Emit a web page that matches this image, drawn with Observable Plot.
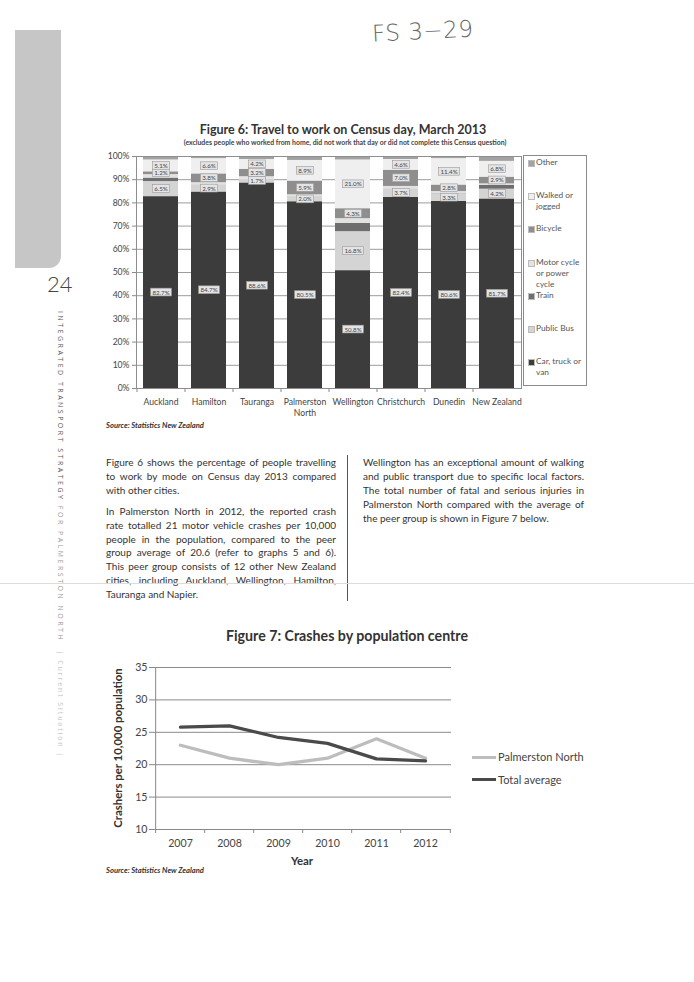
<!DOCTYPE html>
<html><head><meta charset="utf-8">
<script src="https://cdn.jsdelivr.net/npm/d3@7"></script>
<script src="https://cdn.jsdelivr.net/npm/@observablehq/plot@0.6"></script>
<style>
body{margin:0;background:#fff;}
#page{position:relative;width:694px;height:982px;overflow:hidden;font-family:Lato,"Open Sans",sans-serif;color:#333;background:#fff;}
.a{position:absolute;white-space:nowrap;}
.cc{transform:translate(-50%,-50%);line-height:1;}
#tab{left:15px;top:30px;width:46px;height:238px;background:#c6c6c6;border-bottom-right-radius:12px;}
#pnum{left:47px;top:270px;font-size:22px;font-weight:300;color:#444;font-family:Lato,sans-serif;}
#vert{left:56px;top:311px;writing-mode:vertical-rl;font-size:7px;letter-spacing:2.5px;color:#444;font-family:"Open Sans",sans-serif;}
#hand{left:372px;top:18px;font-size:23px;font-weight:200;color:#666;font-family:"DejaVu Sans",sans-serif;letter-spacing:0.5px;transform:rotate(-3deg);}
#t6{left:343px;top:130px;font-size:12.5px;font-weight:bold;color:#333;}
#s6{left:345px;top:142px;font-size:6.9px;font-weight:bold;color:#444;}
#fig6{left:0;top:146px;}
#fig7{left:100px;top:655px;}
#leg6{left:523px;top:155px;width:64px;height:231px;border:1px solid #8a8a8a;box-sizing:border-box;padding-top:1px;}
.li{position:relative;height:33.2px;font-size:8.3px;line-height:11px;color:#555;padding-left:12px;white-space:pre;}
.sw{position:absolute;left:4px;top:3px;width:5px;height:5px;}
.src{font-size:7.6px;font-weight:bold;font-style:italic;color:#333;}
.col{font-size:10px;color:#333;}
.ln{position:absolute;height:14px;line-height:14px;white-space:nowrap;text-align:justify;text-align-last:justify;}
.ln.last{text-align-last:left;}
#divider{left:347px;top:455px;width:1px;height:146px;background:#555;}
#fold{left:0;top:583px;width:694px;height:1px;background:#dcdcdc;}
#t7{left:347px;top:636px;font-size:14.2px;font-weight:bold;color:#333;}
#ylab7{left:118px;top:748px;font-size:11.4px;font-weight:bold;color:#333;transform:translate(-50%,-50%) rotate(-90deg);line-height:1;}
#xlab7{left:302px;top:861px;font-size:11.4px;font-weight:bold;color:#333;}
.l7{font-size:11px;color:#444;}
.ls{position:absolute;height:3px;width:24px;}
</style></head>
<body><div id="page">
<div id="tab" class="a"></div>
<div id="pnum" class="a">24</div>
<div id="vert" class="a"><span style="color:#555">INTEGRATED TRANSPORT STRATEGY</span> <span style="color:#999">FOR PALMERSTON NORTH</span> &nbsp;<span style="color:#c4c4c4;letter-spacing:1.9px">| Current Situation |</span></div>
<div id="hand" class="a">FS 3−29</div>
<div id="t6" class="a cc">Figure 6: Travel to work on Census day, March 2013</div>
<div id="s6" class="a cc">(excludes people who worked from home, did not work that day or did not complete this Census question)</div>
<div id="fig6" class="a"></div>
<div id="leg6" class="a"></div>
<div class="a src" style="left:106px;top:420px;">Source: Statistics New Zealand</div>
<div id="col1"></div>
<div id="divider" class="a"></div>
<div id="col2"></div>
<div id="fold" class="a"></div>
<div id="t7" class="a cc">Figure 7: Crashes by population centre</div>
<div id="fig7" class="a"></div>
<div id="ylab7" class="a">Crashers per 10,000 population</div>
<div id="xlab7" class="a cc">Year</div>
<div id="leg7"></div>
<div class="a src" style="left:106px;top:865px;">Source: Statistics New Zealand</div>
</div>
<script>
// ---------- Figure 6 data ----------
const cities = ["Auckland","Hamilton","Tauranga","Palmerston North","Wellington","Christchurch","Dunedin","New Zealand"];
const cityTickLabels = ["Auckland","Hamilton","Tauranga","Palmerston\nNorth","Wellington","Christchurch","Dunedin","New Zealand"];
const modes = ["Car, truck or van","Public Bus","Train","Motor cycle or power cycle","Bicycle","Walked or jogged","Other"];
const modeLegendLabels = ["Car, truck or\nvan","Public Bus","Train","Motor cycle\nor power\ncycle","Bicycle","Walked or\njogged","Other"];
const modeColors = ["#3c3c3c","#d4d4d4","#6e6e6e","#e2e2e2","#8e8e8e","#efefef","#a2a2a2"];
const carShare     = [82.7, 84.7, 88.6, 80.5, 50.8, 82.4, 80.6, 81.7];
const busShare     = [ 6.5,  2.9,  1.7,  2.0, 16.8,  3.7,  3.3,  4.2];
const trainShare   = [ 1.5,  0.1,  0.0,  0.1,  3.6,  0.0,  0.1,  1.6];
const motoShare    = [ 1.5,  1.0,  1.0,  0.9,  2.0,  1.0,  0.9,  0.7];
const bicycleShare = [ 1.2,  3.8,  3.2,  5.9,  4.3,  7.0,  2.8,  2.9];
const walkedShare  = [ 5.1,  6.6,  4.2,  8.9, 21.0,  4.6, 11.4,  6.8];
const otherShare   = [ 1.5,  0.9,  1.3,  1.7,  1.5,  1.3,  0.9,  2.1];
const labelledModes = ["Car, truck or van","Public Bus","Bicycle","Walked or jogged"];
const yTicks6 = [0,10,20,30,40,50,60,70,80,90,100];

// ---------- Figure 7 data ----------
const years = ["2007","2008","2009","2010","2011","2012"];
const series7 = ["Palmerston North","Total average"];
const series7Colors = ["#bdbdbd","#4a4a4a"];
const palmerstonRate = [23.0, 21.0, 20.0, 21.0, 24.0, 21.0];
const totalAverageRate = [25.8, 26.0, 24.2, 23.3, 20.9, 20.6];
const yTicks7 = [10,15,20,25,30,35];

// ---------- Text ----------
const col1Lines = [
 ["Figure 6 shows the percentage of people travelling","to work by mode on Census day 2013 compared","with other cities."],
 ["In Palmerston North in 2012, the reported crash","rate totalled 21 motor vehicle crashes per 10,000","people in the population, compared to the peer","group average of 20.6 (refer to graphs 5 and 6).","This peer group consists of 12 other New Zealand","cities, including Auckland, Wellington, Hamilton,","Tauranga and Napier."]
];
const col2Lines = [
 ["Wellington has an exceptional amount of walking","and public transport due to specific local factors.","The total number of fatal and serious injuries in","Palmerston North compared with the average of","the peer group is shown in Figure 7 below."]
];

function writeColumn(el, paras, left, top, width) {
  let y = top;
  paras.forEach(p => {
    p.forEach((t, i) => {
      const d = document.createElement("div");
      d.className = "ln col" + (i === p.length - 1 ? " last" : "");
      d.style.left = left + "px"; d.style.top = y + "px"; d.style.width = width + "px";
      d.textContent = t;
      el.appendChild(d);
      y += 13.9;
    });
    y += 7;
  });
}
writeColumn(document.getElementById("col1"), col1Lines, 106, 455, 230);
writeColumn(document.getElementById("col2"), col2Lines, 363, 455, 221);

// ---------- Figure 6 ----------
const shares = [carShare, busShare, trainShare, motoShare, bicycleShare, walkedShare, otherShare];
const rows6 = [];
modes.forEach((m, j) => cities.forEach((c, i) => rows6.push({
  city: c, mode: m, value: shares[j][i],
  label: labelledModes.includes(m) ? shares[j][i].toFixed(1) + "%" : null
})));

const fig6 = Plot.plot({
  width: 530, height: 274,
  marginLeft: 136, marginRight: 9, marginTop: 10, marginBottom: 32,
  style: {fontFamily: "Lato, sans-serif", fontSize: "8.6px", color: "#444", background: "transparent", overflow: "visible"},
  x: {domain: cities, paddingInner: 0.27, paddingOuter: 0.145, label: null},
  y: {domain: [0, 100], label: null},
  color: {domain: modes, range: modeColors},
  marks: [
    Plot.gridY(yTicks6, {stroke: "#9c9c9c", strokeOpacity: 1}),
    Plot.barY(rows6, {x: "city", y: "value", fill: "mode", order: modes}),
    Plot.frame({stroke: "#8e8e8e"}),
    Plot.axisY(yTicks6, {tickSize: 4, tickPadding: 3, tickFormat: d => d + "%", label: null, stroke: "#888"}),
    Plot.axisX({tickSize: 0, tickPadding: 9, label: null, lineHeight: 1.28,
                tickFormat: d => cityTickLabels[cities.indexOf(d)]}),
    Plot.axisX({tickSize: 4, tickFormat: () => "", label: null, dx: -24.0, stroke: "#888"}),
    Plot.text(rows6, Plot.stackY({x: "city", y: "value", z: "mode", order: modes, text: "label",
      fontSize: 6.2, fill: "#444"}))
  ]
});
document.getElementById("fig6").append(fig6);
// boxed value labels
fig6.querySelectorAll("text").forEach(t => {
  if (!/^\d+\.\d%$/.test(t.textContent.trim())) return;
  const b = t.getBBox();
  const r = document.createElementNS("http://www.w3.org/2000/svg", "rect");
  r.setAttribute("x", b.x - 1.8); r.setAttribute("y", b.y - 0.4);
  r.setAttribute("width", b.width + 3.6); r.setAttribute("height", b.height + 0.8);
  r.setAttribute("fill", "#e4e4e4"); r.setAttribute("stroke", "#9a9a9a"); r.setAttribute("stroke-width", "0.6");
  if (t.getAttribute("transform")) r.setAttribute("transform", t.getAttribute("transform"));
  t.parentNode.insertBefore(r, t);
});

// legend for figure 6 (top to bottom = reverse stack order)
const leg6 = document.getElementById("leg6");
modes.slice().reverse().forEach(m => {
  const i = modes.indexOf(m);
  const d = document.createElement("div");
  d.className = "li";
  d.textContent = modeLegendLabels[i];
  const s = document.createElement("span");
  s.className = "sw"; s.style.background = modeColors[i];
  s.style.border = "0.5px solid #bbb";
  d.prepend(s);
  leg6.appendChild(d);
});

// ---------- Figure 7 ----------
const rows7 = [];
years.forEach((y, i) => {
  rows7.push({year: y, series: series7[0], rate: palmerstonRate[i]});
  rows7.push({year: y, series: series7[1], rate: totalAverageRate[i]});
});
const fig7 = Plot.plot({
  width: 360, height: 196,
  marginLeft: 53, marginRight: 9, marginTop: 12, marginBottom: 22,
  style: {fontFamily: "Lato, sans-serif", fontSize: "10.6px", color: "#444", background: "transparent", overflow: "visible"},
  x: {type: "point", domain: years, padding: 0.5, label: null},
  y: {domain: [10, 35], label: null},
  color: {domain: series7, range: series7Colors},
  marks: [
    Plot.gridY(yTicks7.slice(1), {stroke: "#8a8a8a", strokeOpacity: 1}),
    Plot.ruleY([10], {stroke: "#888"}),
    Plot.ruleX([years[0]], {y1: 10, y2: 35, dx: -24.83, stroke: "#888"}),
    Plot.line(rows7, {x: "year", y: "rate", z: "series", stroke: "series", strokeWidth: 3.3}),
    Plot.axisY(yTicks7, {tickSize: 4, tickPadding: 2, label: null, stroke: "#888"}),
    Plot.axisX({tickSize: 0, tickPadding: 10, label: null}),
    Plot.axisX({tickSize: 4, tickFormat: () => "", label: null, dx: -24.83, stroke: "#888"}),
    Plot.axisX([years[years.length - 1]], {tickSize: 4, tickFormat: () => "", label: null, dx: 24.83, stroke: "#888"})
  ]
});
document.getElementById("fig7").append(fig7);

// legend for figure 7
const leg7 = document.getElementById("leg7");
series7.forEach((s, i) => {
  const top = 757 + i * 22.5;
  const ln = document.createElement("div");
  ln.className = "ls"; ln.style.left = "472px"; ln.style.top = (top - 1.5) + "px"; ln.style.background = series7Colors[i];
  leg7.appendChild(ln);
  const t = document.createElement("div");
  t.className = "a l7"; t.style.left = "498px"; t.style.top = (top - 7) + "px"; t.style.lineHeight = "14px";
  t.textContent = s;
  leg7.appendChild(t);
});
</script>
</body></html>
